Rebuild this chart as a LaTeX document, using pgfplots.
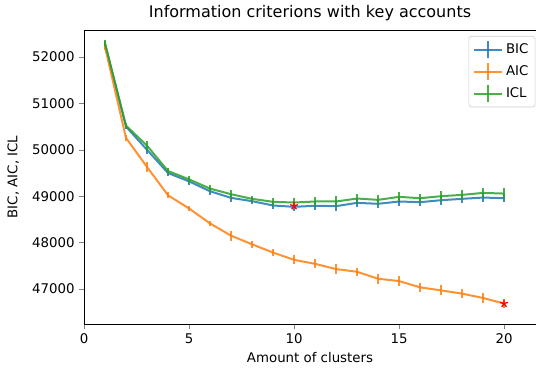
\documentclass[border=0pt]{standalone}
\usepackage{pgfplots}
\pgfplotsset{compat=1.18}
\usepackage{fontspec}
\setmainfont{DejaVu Sans}
\definecolor{c0}{HTML}{1F77B4}
\definecolor{c1}{HTML}{FF7F0E}
\definecolor{c2}{HTML}{2CA02C}
\pgfplotstableread{
x bic bicerr aic aicerr icl iclerr
1 52280 60 52220 60 52300 60
2 50500 60 50257 60 50520 60
3 50000 90 49630 100 50090 110
4 49500 60 49020 60 49543 60
5 49320 70 48736 60 49364 70
6 49107 80 48414 60 49164 70
7 48964 90 48150 110 49043 100
8 48893 70 47964 70 48943 70
9 48800 80 47786 80 48879 90
10 48771 100 47629 100 48864 100
11 48793 100 47543 100 48886 100
12 48786 110 47430 110 48886 110
13 48857 90 47371 80 48950 90
14 48836 100 47221 110 48921 100
15 48886 90 47171 100 48986 100
16 48871 90 47036 100 48957 100
17 48914 100 46971 110 49000 120
18 48943 90 46900 100 49029 110
19 48971 90 46807 100 49071 110
20 48957 90 46686 100 49057 110
}\datatable
\pgfplotsset{
  errlegend/.style={legend image code/.code={
    \draw[##1, line width=1.5pt] (0cm,0cm) -- (0.75cm,0cm);
    \draw[##1, line width=1.5pt] (0.375cm,-0.22cm) -- (0.375cm,0.22cm);}}
}
\begin{document}
\begin{tikzpicture}
\begin{axis}[
  scale only axis,
  width=342pt, height=220.5pt,
  xmin=0, xmax=21.71,
  ymin=46246, ymax=52582,
  axis x line*=bottom, axis y line*=left,
  after end axis/.code={\draw[line width=0.6pt] (rel axis cs:0,1) -- (rel axis cs:1,1);},
  xtick={0,5,10,15,20},
  ytick={47000,48000,49000,50000,51000,52000},
  scaled y ticks=false,
  /pgf/number format/assume math mode=true,
  yticklabel style={/pgf/number format/.cd, fixed, set thousands separator={}},
  tick label style={font=\fontsize{10pt}{12pt}\selectfont},
  label style={font=\fontsize{10pt}{12pt}\selectfont},
  ylabel shift=3pt,
  title style={font=\fontsize{12pt}{14pt}\selectfont, yshift=-3pt, xshift=-1.5pt},
  title={Information criterions with key accounts},
  xlabel={Amount of clusters},
  xlabel style={xshift=-1.5pt},
  ylabel={BIC, AIC, ICL},
  tick align=outside,
  major tick length=3.5pt,
  axis line style={line width=0.6pt},
  legend style={font=\fontsize{10pt}{12pt}\selectfont, draw=black!20, rounded corners=2pt, row sep=2.5pt, inner xsep=3pt, inner ysep=3pt, at={(1,1)}, anchor=north east, xshift=-3.5pt, yshift=-4.5pt},
  legend cell align=left,
]
\addplot[c0, line width=1.5pt, opacity=0.85, errlegend, error bars/.cd, y dir=both, y explicit, error mark=none, error bar style={line width=1.5pt}]
  table[x=x, y=bic, y error=bicerr] {\datatable};
\addlegendentry{BIC}
\addplot[c1, line width=1.5pt, opacity=0.85, errlegend, error bars/.cd, y dir=both, y explicit, error mark=none, error bar style={line width=1.5pt}]
  table[x=x, y=aic, y error=aicerr] {\datatable};
\addlegendentry{AIC}
\addplot[c2, line width=1.5pt, opacity=0.85, errlegend, error bars/.cd, y dir=both, y explicit, error mark=none, error bar style={line width=1.5pt}]
  table[x=x, y=icl, y error=iclerr] {\datatable};
\addlegendentry{ICL}
\addplot[only marks, mark=star, red, mark size=3pt, line width=1pt, forget plot] coordinates {(10,48790) (20,46686)};
\end{axis}
\pgfresetboundingbox
\path[use as bounding box] (current axis.south west) ++(-63pt,-34.5pt) rectangle ([xshift=-3pt,yshift=22.5pt]current axis.north east);
\end{tikzpicture}
\end{document}
